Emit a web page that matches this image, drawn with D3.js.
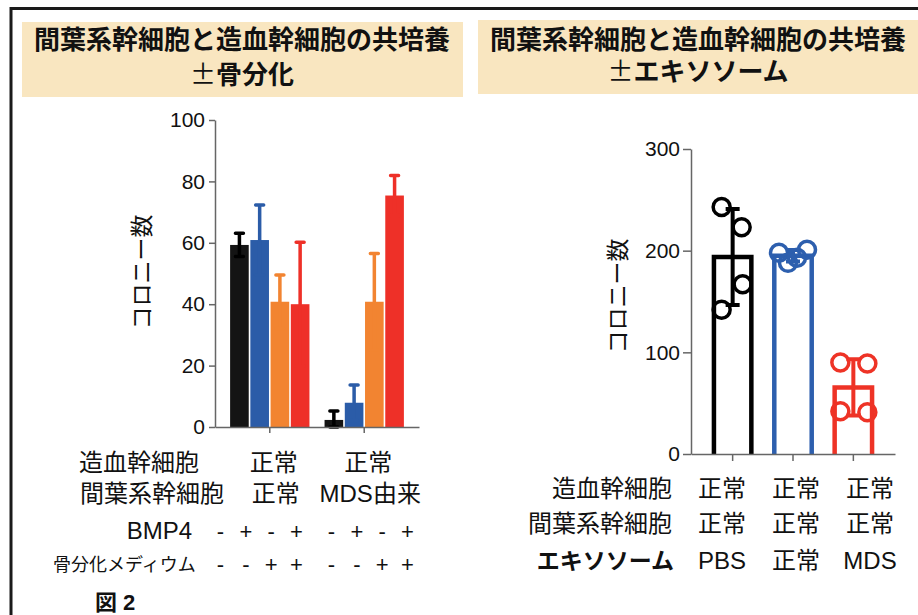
<!DOCTYPE html>
<html>
<head>
<meta charset="utf-8">
<script src="https://cdn.jsdelivr.net/npm/d3@7"></script>
<style>
body { margin: 0; background: #fff; }
svg text { font-family: "Liberation Sans", "Noto Sans CJK JP", sans-serif; fill: #111; }
</style>
</head>
<body>
<div id="chart"></div>
<script>
// left panel data (colony count, mean and SD)
var groups = ["正常", "MDS由来"];            // 間葉系幹細胞
var hscLabels = ["正常", "正常"];             // 造血幹細胞
var conditions = ["c1", "c2", "c3", "c4"];
var bmp4 = ["-", "+", "-", "+"];
var osteo = ["-", "-", "+", "+"];
var colonyMean = [[59.3, 60.9, 40.8, 40.0], [2.3, 7.9, 40.8, 75.4]];
var colonySd = [[3.8, 11.4, 8.7, 20.2], [2.9, 5.8, 15.7, 6.5]];
var leftTicks = [0, 20, 40, 60, 80, 100];

// right panel data (individual points)
var exoLabels = ["PBS", "正常", "MDS"];
var exoHsc = ["正常", "正常", "正常"];
var exoMsc = ["正常", "正常", "正常"];
var exoPoints = [[243, 223, 167, 142], [198, 188, 193, 201], [90, 89, 42, 41]];
var rightTicks = [0, 100, 200, 300];

var leftColors = ["#141414", "#2b5ca8", "#f28431", "#ee3028"];
var rightColors = ["#000000", "#2d5fae", "#ee3326"];

var width = 918, height = 615;

var svg = d3.select('#chart').append('svg')
    .attr('width', width)
    .attr('height', height);

// outer frame
svg.append('path')
    .attr('d', 'M11,615 V8.5 H918')
    .attr('fill', 'none')
    .attr('stroke', '#1a1a1a')
    .attr('stroke-width', 3);

// title boxes
var titles = [
    {x: 22, y: 22, w: 441, h: 75, cx: 242, base: [49, 84], lines: ["間葉系幹細胞と造血幹細胞の共培養", "骨分化"]},
    {x: 478, y: 20, w: 445, h: 74, cx: 698, base: [49, 81], lines: ["間葉系幹細胞と造血幹細胞の共培養", "エキソソーム"]}
];
titles.forEach(function(t) {
    svg.append('rect')
        .attr('x', t.x).attr('y', t.y)
        .attr('width', t.w).attr('height', t.h)
        .attr('fill', '#f9e6c0');
    svg.append('text')
        .attr('x', t.cx).attr('y', t.base[0])
        .attr('text-anchor', 'middle')
        .style('font-size', '26px')
        .style('font-weight', 'bold')
        .text(t.lines[0]);
    var l2 = svg.append('text')
        .attr('x', t.cx).attr('y', t.base[1])
        .attr('text-anchor', 'middle')
        .style('font-size', '26px');
    l2.append('tspan').style('font-weight', 'normal').style('font-family', '"Noto Sans CJK JP"').text('±');
    l2.append('tspan').style('font-weight', 'bold').text(t.lines[1]);
});

function styleAxis(g, fs) {
    g.select('.domain').attr('stroke', '#666').attr('stroke-width', 1.5);
    g.selectAll('.tick line').attr('stroke', '#666').attr('stroke-width', 1.5);
    g.selectAll('.tick text').style('font-size', fs).attr('fill', '#111');
}

// ---------- left panel ----------
var yL = d3.scaleLinear().domain([0, 100]).range([427, 120]);
var x0 = d3.scaleBand().domain(groups).range([215, 419]).padding(0.16);
var x1 = d3.scaleBand().domain(conditions).range([0, x0.bandwidth()]).paddingInner(0.08);

var leftData = [];
groups.forEach(function(g, gi) {
    conditions.forEach(function(c, ci) {
        leftData.push({g: g, c: c, ci: ci, mean: colonyMean[gi][ci], sd: colonySd[gi][ci]});
    });
});

svg.selectAll('.bar')
    .data(leftData)
    .enter()
    .append('rect')
    .attr('class', 'bar')
    .attr('x', function(d) { return x0(d.g) + x1(d.c); })
    .attr('y', function(d) { return yL(d.mean); })
    .attr('width', x1.bandwidth())
    .attr('height', function(d) { return yL(0) - yL(d.mean); })
    .style('fill', function(d) { return leftColors[d.ci]; });

var errL = svg.selectAll('.errL')
    .data(leftData)
    .enter()
    .append('g')
    .attr('class', 'errL')
    .attr('stroke', function(d) { return d.ci === 0 ? '#000' : leftColors[d.ci]; })
    .attr('stroke-width', 3.5)
    .attr('stroke-linecap', 'round');
errL.append('path')
    .attr('fill', 'none')
    .attr('d', function(d) {
        var cx = x0(d.g) + x1(d.c) + x1.bandwidth() / 2;
        var top = yL(d.mean + d.sd), bot = yL(Math.max(0, d.mean - d.sd));
        return 'M' + cx + ',' + bot + 'V' + top +
               'M' + (cx - 4) + ',' + top + 'H' + (cx + 4) +
               'M' + (cx - 4) + ',' + bot + 'H' + (cx + 4);
    });

var axYL = svg.append('g')
    .attr('transform', 'translate(215,0)')
    .call(d3.axisLeft(yL).tickValues(leftTicks).tickSize(6).tickSizeOuter(0).tickPadding(4));
styleAxis(axYL, '21px');

var axXL = svg.append('g')
    .attr('transform', 'translate(0,' + yL(0) + ')')
    .call(d3.axisBottom(x0).tickSize(6).tickSizeOuter(0).tickFormat(''));
styleAxis(axXL, '21px');

svg.append('text')
    .attr('transform', 'translate(150,272) rotate(-90)')
    .attr('text-anchor', 'middle')
    .style('font-size', '23px')
    .text('コロニー数');

// left table
var gc = function(g) { return x0(g) + x0.bandwidth() / 2; };
svg.append('text').attr('x', 79).attr('y', 471).style('font-size', '24px').text('造血幹細胞');
svg.append('text').attr('x', 80).attr('y', 502).style('font-size', '24px').text('間葉系幹細胞');
svg.append('text').attr('x', 192).attr('y', 538.5).attr('text-anchor', 'end').style('font-size', '24px').text('BMP4');
svg.append('text').attr('x', 53).attr('y', 571).style('font-size', '18px').text('骨分化メディウム');

svg.selectAll('.hsc').data(hscLabels).enter().append('text')
    .attr('x', function(d, i) { return gc(groups[i]) + 4; })
    .attr('y', 471).attr('text-anchor', 'middle').style('font-size', '24px')
    .text(function(d) { return d; });
svg.selectAll('.msc').data(groups).enter().append('text')
    .attr('x', function(d) { return gc(d) + 6; })
    .attr('y', 502).attr('text-anchor', 'middle').style('font-size', '24px')
    .text(function(d) { return d; });

// sign columns sit on their own band scale
var signBand = d3.scaleBand().domain(groups).range([203, 425]);
var signX = d3.scalePoint().domain(conditions).range([-38, 38]);
groups.forEach(function(g) {
    var c = signBand(g) + signBand.bandwidth() / 2;
    [[bmp4, 538.5], [osteo, 572]].forEach(function(row) {
        svg.selectAll(null).data(row[0]).enter().append('text')
            .attr('x', function(d, i) { return c + signX(conditions[i]); })
            .attr('y', row[1]).attr('text-anchor', 'middle').style('font-size', '22px')
            .text(function(d) { return d; });
    });
});

svg.append('text').attr('x', 95).attr('y', 610).style('font-size', '22px').style('font-weight', 'bold').text('図 2');

// ---------- right panel ----------
var yR = d3.scaleLinear().domain([0, 300]).range([454, 149]);
var xR = d3.scaleBand().domain(exoLabels).range([691, 895]).padding(0.38);
var jitter = [[-11, 9, 10, -11], [-14, -5, 4, 14], [-13, 14, -13, 14]];

var rightData = exoLabels.map(function(l, i) {
    return {label: l, i: i, pts: exoPoints[i], mean: d3.mean(exoPoints[i]), sd: d3.deviation(exoPoints[i])};
});

svg.selectAll('.barR')
    .data(rightData)
    .enter()
    .append('path')
    .attr('class', 'barR')
    .attr('fill', '#fff')
    .attr('stroke', function(d) { return rightColors[d.i]; })
    .attr('stroke-width', 4.5)
    .attr('d', function(d) {
        var x = xR(d.label), w = xR.bandwidth();
        return 'M' + x + ',' + yR(0) + 'V' + yR(d.mean) + 'H' + (x + w) + 'V' + yR(0);
    });

svg.selectAll('.errR')
    .data(rightData)
    .enter()
    .append('path')
    .attr('class', 'errR')
    .attr('fill', 'none')
    .attr('stroke', function(d) { return rightColors[d.i]; })
    .attr('stroke-width', 4)
    .attr('d', function(d) {
        var cx = xR(d.label) + xR.bandwidth() / 2;
        var top = yR(d.mean + d.sd), bot = yR(d.mean - d.sd);
        return 'M' + cx + ',' + bot + 'V' + top +
               'M' + (cx - 7) + ',' + top + 'H' + (cx + 7) +
               'M' + (cx - 7) + ',' + bot + 'H' + (cx + 7);
    });

rightData.forEach(function(d) {
    var cx = xR(d.label) + xR.bandwidth() / 2;
    svg.selectAll(null).data(d.pts).enter().append('circle')
        .attr('cx', function(v, j) { return cx + jitter[d.i][j]; })
        .attr('cy', function(v) { return yR(v); })
        .attr('r', 8.5)
        .attr('fill', 'none')
        .attr('stroke', rightColors[d.i])
        .attr('stroke-width', 3.5);
});

var axYR = svg.append('g')
    .attr('transform', 'translate(691,0)')
    .call(d3.axisLeft(yR).tickValues(rightTicks).tickSize(8).tickSizeOuter(0).tickPadding(3));
styleAxis(axYR, '21px');

var axXR = svg.append('g')
    .attr('transform', 'translate(0,' + yR(0) + ')')
    .call(d3.axisBottom(xR).tickSize(7).tickSizeOuter(0).tickFormat(''));
styleAxis(axXR, '21px');

svg.append('text')
    .attr('transform', 'translate(626,296) rotate(-90)')
    .attr('text-anchor', 'middle')
    .style('font-size', '23px')
    .text('コロニー数');

// right table
var colX = d3.scalePoint().domain(exoLabels).range([722, 870]);
svg.append('text').attr('x', 672).attr('y', 497).attr('text-anchor', 'end').style('font-size', '24px').text('造血幹細胞');
svg.append('text').attr('x', 672).attr('y', 532).attr('text-anchor', 'end').style('font-size', '24px').text('間葉系幹細胞');
svg.append('text').attr('x', 674).attr('y', 569).attr('text-anchor', 'end').style('font-size', '23px').style('font-weight', 'bold').text('エキソソーム');

[[exoHsc, 497], [exoMsc, 532], [exoLabels, 569]].forEach(function(row) {
    svg.selectAll(null).data(row[0]).enter().append('text')
        .attr('x', function(d, i) { return colX(exoLabels[i]); })
        .attr('y', row[1]).attr('text-anchor', 'middle').style('font-size', '24px')
        .text(function(d) { return d; });
});
</script>
</body>
</html>
